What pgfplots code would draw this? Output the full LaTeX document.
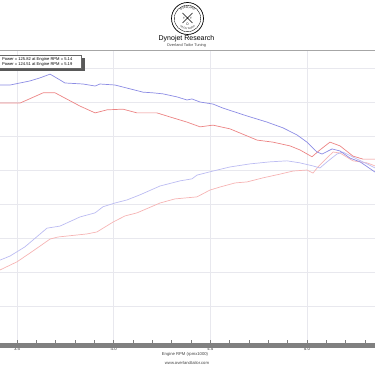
\documentclass[border=0pt]{standalone}
\usepackage{pgfplots}
\pgfplotsset{compat=1.18}
\usepackage{fontspec}
\setmainfont{Liberation Sans}
\usetikzlibrary{decorations.text}
\definecolor{blueA}{RGB}{140,140,228}
\definecolor{blueB}{RGB}{188,188,242}
\definecolor{redA}{RGB}{236,132,132}
\definecolor{redB}{RGB}{246,180,180}
\definecolor{gridc}{RGB}{232,232,238}
\definecolor{barc}{RGB}{128,128,128}

\pgfplotstableread{
x y
3.412 145.2
3.464 145.2
3.567 146.4
3.619 147.3
3.671 148.4
3.722 146.7
3.748 145.8
3.841 145.5
3.904 144.9
3.929 145.5
4.007 145.2
4.069 144.3
4.152 143.1
4.204 142.9
4.255 142.6
4.328 141.7
4.379 140.8
4.405 141.1
4.447 140.2
4.514 139.6
4.566 138.4
4.690 136.1
4.793 134.3
4.876 132.6
4.949 130.5
5.000 128.4
5.052 125.5
5.078 124.9
5.130 126.4
5.171 125.8
5.223 123.7
5.275 122.6
5.352 119.6
}\blueupper

\pgfplotstableread{
x y
3.412 139.9
3.516 139.9
3.635 142.9
3.697 142.9
3.826 139.0
3.904 137.0
3.966 137.9
4.048 138.1
4.121 137.0
4.224 137.0
4.292 135.8
4.379 134.3
4.447 132.9
4.514 133.4
4.602 132.3
4.742 129.0
4.824 128.4
4.912 127.3
4.964 126.1
5.026 124.1
5.067 126.1
5.119 128.4
5.171 127.3
5.238 124.3
5.290 123.4
5.352 123.4
}\redupper

\pgfplotstableread{
x y
3.412 93.7
3.464 94.9
3.541 97.6
3.655 103.1
3.722 103.7
3.826 106.4
3.904 107.6
3.945 109.4
4.007 110.5
4.069 111.4
4.136 112.9
4.240 115.5
4.343 117.0
4.405 117.6
4.431 118.7
4.514 119.9
4.602 121.1
4.705 122.0
4.809 122.6
4.897 122.9
4.964 122.3
5.031 121.4
5.067 120.8
5.104 122.6
5.155 124.9
5.186 125.5
5.238 124.0
5.311 122.0
5.352 120.8
}\bluelower

\pgfplotstableread{
x y
3.412 90.8
3.500 93.2
3.583 96.4
3.671 99.9
3.712 100.5
3.862 101.4
3.914 102.0
3.997 104.9
4.059 106.7
4.121 107.6
4.240 110.5
4.317 111.7
4.431 112.3
4.498 114.3
4.550 115.2
4.628 116.4
4.690 116.7
4.773 117.9
4.861 119.0
4.928 119.9
5.000 120.2
5.031 119.3
5.057 121.1
5.083 122.6
5.135 125.5
5.171 125.2
5.238 122.9
5.311 122.3
5.352 121.4
}\redlower

\begin{document}
\begin{tikzpicture}
\begin{axis}[
  at={(0pt,-346pt)}, anchor=south west,
  scale only axis, width=375pt, height=296pt,
  xmin=3.412, xmax=5.352, ymin=68.44, ymax=155.5,
  axis line style={draw=none},
  xtick={3.5,4.0,4.5,5.0},
  xticklabels={3.5,4.0,4.5,5.0},
  minor xtick={3.6,3.7,3.8,3.9,4.1,4.2,4.3,4.4,4.6,4.7,4.8,4.9,5.1,5.2,5.3},
  ytick={80,90,100,110,120,130,140,150},
  yticklabels={},
  ytick style={draw=none},
  xtick pos=left,
  tick align=inside,
  major tick length=6pt, minor tick length=6pt,
  xtick style={barc, line width=0.5pt},
  xmajorgrids, ymajorgrids,
  grid style={gridc, line width=0.8pt},
  xticklabel style={font=\fontsize{4.3}{4.5}\selectfont, text=black!80, inner sep=1.2pt},
  clip=true,
]
\addplot[redB, line width=0.7pt] table {\redlower};
\addplot[blueB, line width=0.7pt] table {\bluelower};
\addplot[redA, line width=0.7pt] table {\redupper};
\addplot[blueA, line width=0.7pt] table {\blueupper};
\end{axis}

\begin{scope}[x=1pt,y=1pt]
% header
\draw[barc!70, line width=0.9pt] (0,-50) -- (375,-50);
\draw[line width=0.7pt] (187.5,-18.5) circle (16);
\draw[line width=0.35pt] (187.5,-18.5) circle (13.2);
\path[decorate, decoration={text along path, text={|\fontsize{2.6}{3}\selectfont|OVERLAND}, text align=center}]
  (176.8,-16.5) arc (165:15:11.1);
\path[decorate, decoration={text along path, text={|\fontsize{2.2}{3}\selectfont|TAILOR TUNING}, text align=center}]
  (177.5,-22.5) arc (-160:-20:10.6);
\draw[line width=0.4pt] (182.5,-13) -- (192.5,-23) (192.5,-13) -- (182.5,-23);
\node[font=\fontsize{3}{3}\selectfont, inner sep=0] at (184,-18.5) {T};
\node[font=\fontsize{3}{3}\selectfont, inner sep=0] at (191,-18.5) {T};
\node[font=\fontsize{2.5}{3}\selectfont, inner sep=0] at (187.5,-24.5) {$\circ$};
\node[font=\fontsize{7}{8}\selectfont, inner sep=0] at (186.5,-38.5) {Dynojet Research};
\node[font=\fontsize{3.9}{4}\selectfont, inner sep=0, text=black!75] at (186.5,-45.3) {Overland Tailor Tuning};

% bottom bar
\fill[barc] (0,-347.5) rectangle (375,-343);
% axis title and footer
\node[font=\fontsize{4.2}{4.5}\selectfont, inner sep=0, text=black!75] at (185,-354.5) {Engine RPM (rpmx1000)};
\node[font=\fontsize{4.2}{4.5}\selectfont, inner sep=0, text=black!75] at (187,-362.5) {www.overlandtailor.com};

% legend box
\fill[black!65] (-20,-58) rectangle (84.5,-71.5);
\filldraw[fill=white, draw=black!60, line width=0.4pt] (-20,-55) rectangle (81.5,-68.5);
\node[font=\fontsize{4.1}{4.5}\selectfont, inner sep=0, anchor=east] at (72.5,-59) {Power = 125.82 at Engine RPM = 5.14};
\node[font=\fontsize{4.1}{4.5}\selectfont, inner sep=0, anchor=east] at (72.5,-64.5) {Power = 124.51 at Engine RPM = 5.19};

\pgfresetboundingbox
\useasboundingbox (0,0) rectangle (375,-366);
\end{scope}
\end{tikzpicture}
\end{document}
